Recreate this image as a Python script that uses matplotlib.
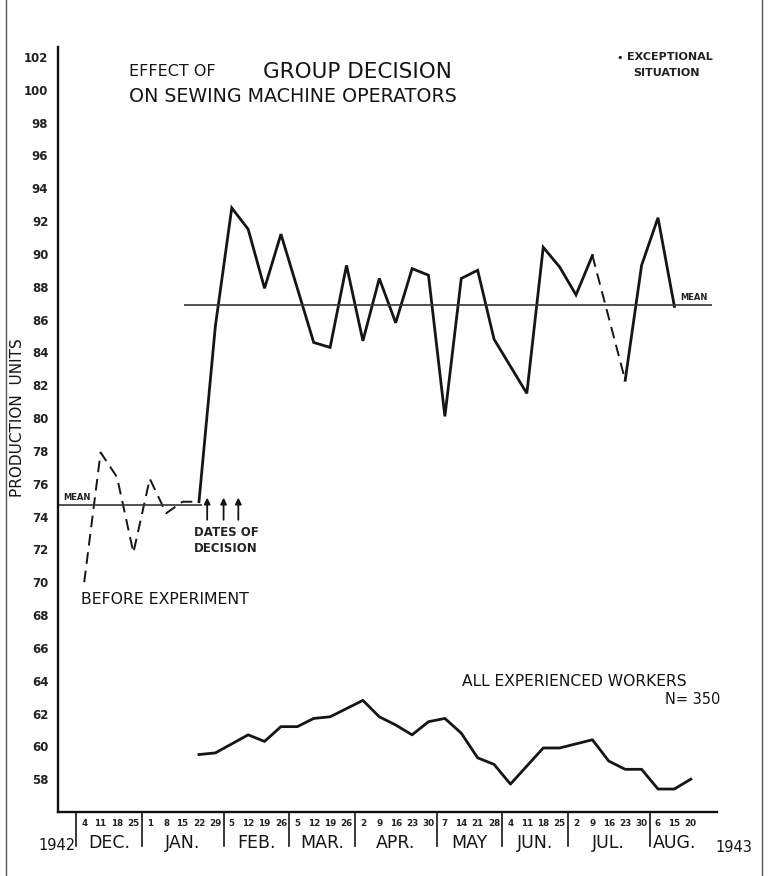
import matplotlib
matplotlib.use("Agg")
import matplotlib.pyplot as plt
from matplotlib.lines import Line2D

# ---------------- data ----------------
month_labels = ['DEC.', 'JAN.', 'FEB.', 'MAR.', 'APR.', 'MAY', 'JUN.', 'JUL.', 'AUG.']
month_short = ['Dec', 'Jan', 'Feb', 'Mar', 'Apr', 'May', 'Jun', 'Jul', 'Aug']
week_days = [[4, 11, 18, 25], [1, 8, 15, 22, 29], [5, 12, 19, 26], [5, 12, 19, 26],
             [2, 9, 16, 23, 30], [7, 14, 21, 28], [4, 11, 18, 25], [2, 9, 16, 23, 30],
             [6, 15, 20]]
y_ticks = list(range(58, 104, 2))

before_dates = ['Dec 4', 'Dec 11', 'Dec 18', 'Dec 25', 'Jan 1', 'Jan 8', 'Jan 15', 'Jan 22']
before_vals = [70.0, 77.9, 76.4, 71.8, 76.3, 74.2, 74.9, 74.9]
before_mean = 74.7

group_dates = ['Jan 22', 'Jan 29', 'Feb 5', 'Feb 12', 'Feb 19', 'Feb 26', 'Mar 12', 'Mar 19',
               'Mar 26', 'Apr 2', 'Apr 9', 'Apr 16', 'Apr 23', 'Apr 30', 'May 7', 'May 14',
               'May 21', 'May 28', 'Jun 11', 'Jun 18', 'Jun 25', 'Jul 2', 'Jul 9', 'Jul 23',
               'Jul 30', 'Aug 6', 'Aug 15']
group_vals = [74.9, 85.6, 92.8, 91.5, 87.9, 91.2, 84.6, 84.3, 89.3, 84.7, 88.5, 85.8, 89.1,
              88.7, 80.1, 88.5, 89.0, 84.8, 81.5, 90.4, 89.2, 87.5, 89.9, 82.3, 89.3, 92.2, 86.8]
group_exceptional = ('Jul 9', 'Jul 23')
group_mean = 86.9

all_dates = ['Jan 22', 'Jan 29', 'Feb 12', 'Feb 19', 'Feb 26', 'Mar 5', 'Mar 12', 'Mar 19',
             'Apr 2', 'Apr 9', 'Apr 16', 'Apr 23', 'Apr 30', 'May 7', 'May 14', 'May 21',
             'May 28', 'Jun 4', 'Jun 18', 'Jun 25', 'Jul 9', 'Jul 16', 'Jul 23', 'Jul 30',
             'Aug 6', 'Aug 15', 'Aug 20']
all_vals = [59.5, 59.6, 60.7, 60.3, 61.2, 61.2, 61.7, 61.8, 62.8, 61.8, 61.3, 60.7, 61.5,
            61.7, 60.8, 59.3, 58.9, 57.7, 59.9, 59.9, 60.4, 59.1, 58.6, 58.6, 57.4, 57.4, 58.0]
decision_dates = ['Jan 22', 'Jan 29', 'Feb 5']

# ---------------- helpers ----------------
week_keys = []
for m, days in enumerate(week_days):
    for d in days:
        week_keys.append(f"{month_short[m]} {d}")
pos = {k: i for i, k in enumerate(week_keys)}

W, H = 768, 876
fig = plt.figure(figsize=(W / 100, H / 100), dpi=100)
fig.patch.set_facecolor('white')
plt.rcParams['font.family'] = ['DejaVu Sans']

def fx(x):
    return x / W

def fy(y):
    return 1 - y / H

ax_l, ax_r, ax_t, ax_b = 58, 717, 47, 812
ax = fig.add_axes([fx(ax_l), fy(ax_b), (ax_r - ax_l) / W, (ax_b - ax_t) / H])
ax.set_xlim(-1.6, 38.6)
ax.set_ylim(56.0, 102.6)
for s in ['top', 'right']:
    ax.spines[s].set_visible(False)
for s in ['left', 'bottom']:
    ax.spines[s].set_linewidth(1.7)
    ax.spines[s].set_color('#111111')
ax.set_xticks([])
ax.set_yticks(y_ticks)
ax.set_yticklabels([str(v) for v in y_ticks], fontsize=8.5, fontweight='bold', color='#222222')
ax.tick_params(axis='y', length=0, pad=7)

ink = '#151515'
lw = 2.0

# before experiment (dashed)
bx = [pos[d] for d in before_dates]
ax.plot(bx, before_vals, color=ink, lw=1.4, ls=(0, (6, 3.5)))
ax.hlines(before_mean, -1.6, 7.2, color='#333333', lw=1.2)

# group decision series
gx = [pos[d] for d in group_dates]
k0 = group_dates.index(group_exceptional[0])
k1 = group_dates.index(group_exceptional[1])
ax.plot(gx[:k0 + 1], group_vals[:k0 + 1], color=ink, lw=lw, solid_joinstyle='miter')
ax.plot(gx[k0:k1 + 1], group_vals[k0:k1 + 1], color=ink, lw=1.4, ls=(0, (6, 3.5)))
ax.plot(gx[k1:], group_vals[k1:], color=ink, lw=lw, solid_joinstyle='miter')
ax.hlines(group_mean, 6.1, 38.3, color='#333333', lw=1.2)

# all experienced workers
axx = [pos[d] for d in all_dates]
ax.plot(axx, all_vals, color=ink, lw=lw)

# decision arrows
for i, d in enumerate(decision_dates):
    xa = pos[d] + 0.5 - 0.1 * (i == 2)
    ax.annotate('', xy=(xa, 75.15), xytext=(xa, 73.8),
                arrowprops=dict(arrowstyle='-|>', lw=1.3, color=ink, mutation_scale=9,
                                shrinkA=0, shrinkB=0))

# x-axis week labels, month labels, separators
trans = ax.get_xaxis_transform()
for i, k in enumerate(week_keys):
    ax.text(i, -(824 - ax_b) / (ax_b - ax_t), k.split()[1], transform=trans, ha='center',
            va='center', fontsize=6.3, fontweight='bold', color='#222222', clip_on=False)
start = 0
for m, days in enumerate(week_days):
    n = len(days)
    left = start - 0.5
    right = start + n - 0.5
    ax.plot([left, left], [0, -(846 - ax_b) / (ax_b - ax_t)], transform=trans, color=ink,
            lw=1.2, clip_on=False)
    ax.text((left + right) / 2, -(843 - ax_b) / (ax_b - ax_t), month_labels[m], transform=trans,
            ha='center', va='center', fontsize=12.5, color=ink, clip_on=False)
    start += n

fig.text(fx(76), fy(846), '1942', ha='right', va='center', fontsize=10.5, color=ink)
fig.text(fx(715), fy(847), '1943', ha='left', va='center', fontsize=10.5, color=ink)

# texts
fig.text(fx(18), fy(418), 'PRODUCTION  UNITS', rotation=90, ha='center', va='center',
         fontsize=11, color=ink)
fig.text(fx(129), fy(72), 'EFFECT OF', ha='left', va='center', fontsize=11.5, color=ink)
fig.text(fx(263), fy(72), 'GROUP DECISION', ha='left', va='center', fontsize=15.5, color=ink)
fig.text(fx(129), fy(96), 'ON SEWING MACHINE OPERATORS', ha='left', va='center',
         fontsize=13.7, color=ink)
fig.text(fx(620), fy(58), '\u2022', ha='center', va='center', fontsize=8, color=ink)
fig.text(fx(627), fy(57), 'EXCEPTIONAL', ha='left', va='center', fontsize=8,
         fontweight='bold', color='#222222')
fig.text(fx(666), fy(73), 'SITUATION', ha='center', va='center', fontsize=8,
         fontweight='bold', color='#222222')
fig.text(fx(63), fy(497), 'MEAN', ha='left', va='center', fontsize=6, fontweight='bold',
         color='#222222')
fig.text(fx(680), fy(298), 'MEAN', ha='left', va='center', fontsize=6, fontweight='bold',
         color='#222222')
fig.text(fx(81), fy(600), 'BEFORE EXPERIMENT', ha='left', va='center', fontsize=11.3,
         color=ink)
fig.text(fx(194), fy(533), 'DATES OF', ha='left', va='center', fontsize=8.5,
         fontweight='bold', color='#222222')
fig.text(fx(194), fy(549), 'DECISION', ha='left', va='center', fontsize=8.5,
         fontweight='bold', color='#222222')
fig.text(fx(462), fy(681), 'ALL EXPERIENCED WORKERS', ha='left', va='center', fontsize=11.2,
         color=ink)
fig.text(fx(720), fy(699), 'N= 350', ha='right', va='center', fontsize=10.5, color=ink)

# page border lines
fig.add_artist(Line2D([fx(6), fx(6)], [0, 1], color='#555555', lw=1.0))
fig.add_artist(Line2D([fx(762), fx(762)], [0, 1], color='#555555', lw=1.0))

fig.savefig('out.png', dpi=100, facecolor='white')
